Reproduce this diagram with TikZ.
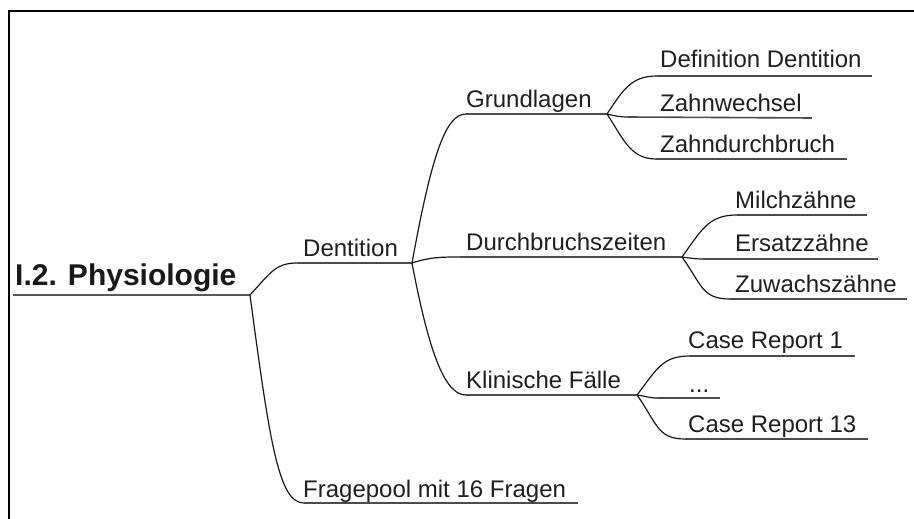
\documentclass[tikz,border=0pt]{standalone}
\usepackage{fontspec}
\setmainfont{Liberation Sans}
\begin{document}
\begin{tikzpicture}[x=1pt,y=-1pt,
  topic/.style={anchor=base west,inner sep=0pt,text=black!88,
    font=\fontsize{24}{28}\selectfont},
  roottopic/.style={anchor=base west,inner sep=0pt,text=black!90,
    font=\fontsize{30}{34}\selectfont\bfseries},
  uline/.style={draw=black!70,line width=1.6pt},
  rootline/.style={draw=black!65,line width=2.4pt},
  conn/.style={draw=black!90,line width=1.2pt},
  frame/.style={draw=black,line width=1.4pt}]
\useasboundingbox (0,0) rectangle (914,519);
\fill[white] (0,0) rectangle (914,519);

% outer frame (left and top edges visible)
\draw[frame] (9,530) |- (930,11);

% ---- topics: text, then the underline ends ----
\node[roottopic] (root) at (15,285) {I.2. Physiologie};
\coordinate (root-l) at (13,295);  \coordinate (root-r) at (250,295);

\node[topic] (dent) at (303,256) {Dentition};
\coordinate (dent-l) at (298,263); \coordinate (dent-r) at (412,263);

\node[topic] (frage) at (303,497) {Fragepool mit 16 Fragen};
\coordinate (frage-l) at (304,503); \coordinate (frage-r) at (578,503);

\node[topic] (grund) at (466,108) {Grundlagen};
\coordinate (grund-l) at (466,114); \coordinate (grund-r) at (607,114);

\node[topic] (durch) at (466,250) {Durchbruchszeiten};
\coordinate (durch-l) at (460,257); \coordinate (durch-r) at (682,257);

\node[topic] (klin) at (466,388) {Klinische Fälle};
\coordinate (klin-l) at (466,395); \coordinate (klin-r) at (637,395);

\node[topic] (def) at (660,68) {Definition Dentition};
\coordinate (def-l) at (657,76);   \coordinate (def-r) at (872,76);

\node[topic] (zw) at (660,111) {Zahnwechsel};
\coordinate (zw-l) at (628,117);   \coordinate (zw-r) at (812,118);

\node[topic] (zd) at (660,152) {Zahndurchbruch};
\coordinate (zd-l) at (656,159);   \coordinate (zd-r) at (847,159);

\node[topic] (milch) at (735,208) {Milchzähne};
\coordinate (milch-l) at (737,215); \coordinate (milch-r) at (867,215);

\node[topic] (ers) at (735,251) {Ersatzzähne};
\coordinate (ers-l) at (703,259);  \coordinate (ers-r) at (878,259);

\node[topic] (zuw) at (735,292) {Zuwachszähne};
\coordinate (zuw-l) at (730,299);  \coordinate (zuw-r) at (907,299);

\node[topic] (cr1) at (688,348) {Case Report 1};
\coordinate (cr1-l) at (690,356);  \coordinate (cr1-r) at (855,356);

\node[topic] (dots) at (689,392) {...};
\coordinate (dots-l) at (657,398); \coordinate (dots-r) at (720,398);

\node[topic] (cr13) at (688,432) {Case Report 13};
\coordinate (cr13-l) at (685,439); \coordinate (cr13-r) at (868,439);

% ---- underlines ----
\draw[rootline] (root-l) -- (root-r);
\foreach \t in {dent,frage,grund,durch,klin,def,zw,zd,milch,ers,zuw,cr1,dots,cr13}
  \draw[uline] (\t-l) -- (\t-r);

% ---- connectors ----
\draw[conn] (root-r) .. controls +(22,-24) and +(-22,0) .. (dent-l);
\draw[conn] (root-r) .. controls +(20,150) and +(-25,0) .. (frage-l);

\draw[conn] (dent-r) .. controls +(20,-110) and +(-20,0) .. (grund-l);
\draw[conn] (dent-r) .. controls +(18,-6) and +(-18,0) .. (durch-l);
\draw[conn] (dent-r) .. controls +(18,95) and +(-20,0) .. (klin-l);

\draw[conn] (grund-r) .. controls +(16,-24) and +(-26,0) .. (def-l);
\draw[conn] (grund-r) .. controls +(8,2) and +(-8,0) .. (zw-l);
\draw[conn] (grund-r) .. controls +(16,24) and +(-26,0) .. (zd-l);

\draw[conn] (durch-r) .. controls +(20,-28) and +(-28,0) .. (milch-l);
\draw[conn] (durch-r) .. controls +(8,1) and +(-8,0) .. (ers-l);
\draw[conn] (durch-r) .. controls +(20,28) and +(-28,0) .. (zuw-l);

\draw[conn] (klin-r) .. controls +(20,-26) and +(-28,0) .. (cr1-l);
\draw[conn] (klin-r) .. controls +(8,1) and +(-8,0) .. (dots-l);
\draw[conn] (klin-r) .. controls +(20,28) and +(-28,0) .. (cr13-l);
\end{tikzpicture}
\end{document}
